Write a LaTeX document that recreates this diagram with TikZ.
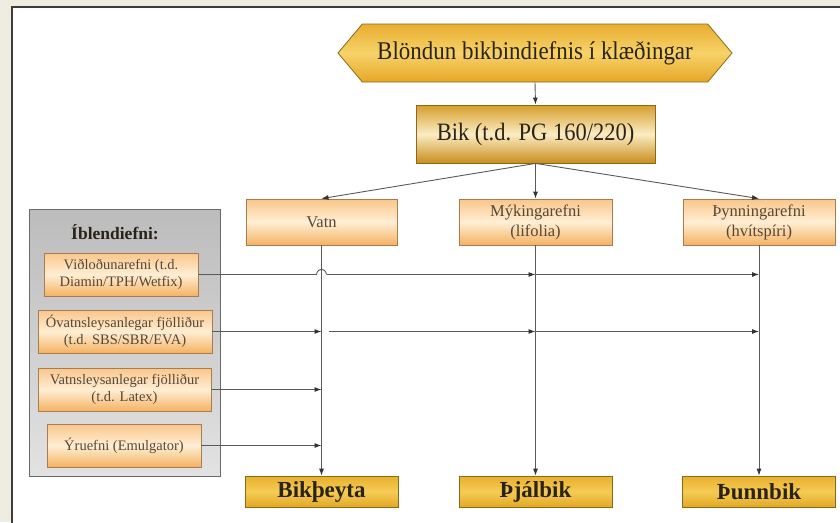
\documentclass[tikz,border=0pt]{standalone}
\usepackage{fontspec}
\setmainfont{Liberation Serif}
\newfontfamily\condfont{Liberation Serif}[FakeStretch=0.9]
\usetikzlibrary{shapes.symbols,arrows.meta,calc}
\definecolor{bgbeige}{HTML}{EFECE1}
\definecolor{frame}{HTML}{3C3C3C}
\definecolor{lineg}{HTML}{5A5A5A}
\definecolor{goldbd}{HTML}{8A6A1A}
\definecolor{orbd}{HTML}{A87C50}
\definecolor{greybd}{HTML}{6A6A6A}
\definecolor{txtd}{HTML}{2A2418}
\definecolor{txtl}{HTML}{54483A}
\definecolor{hexT}{RGB}{232,174,48}
\definecolor{hexM}{RGB}{247,210,105}
\definecolor{hexB}{RGB}{230,166,38}
\definecolor{bikT}{RGB}{214,158,44}
\definecolor{bikM}{RGB}{251,236,195}
\definecolor{bikB}{RGB}{200,142,30}
\definecolor{orT}{RGB}{250,198,138}
\definecolor{orM}{RGB}{255,238,212}
\definecolor{orB}{RGB}{245,178,98}
\definecolor{resT}{RGB}{232,176,44}
\definecolor{resM}{RGB}{245,203,85}
\definecolor{resB}{RGB}{226,168,36}
\definecolor{grT}{RGB}{188,188,188}
\definecolor{grB}{RGB}{226,226,226}
\tikzset{
  hexa/.style={signal, signal to=west and east, signal pointer angle=100,
    draw=goldbd, line width=0.8pt,
    inner sep=0pt, minimum width=394pt, minimum height=58pt,
    top color=hexT, bottom color=hexB, middle color=hexM,
    font=\condfont\fontsize{25.5}{28}\selectfont, text=txtd},
  bikbox/.style={rectangle, draw=goldbd, line width=0.8pt, inner sep=0pt,
    minimum width=239pt, minimum height=58pt,
    top color=bikT, bottom color=bikB, middle color=bikM,
    font=\condfont\fontsize{25}{28}\selectfont, text=txtd},
  lightbox/.style={rectangle, draw=orbd, line width=0.8pt, inner sep=0pt,
    top color=orT, bottom color=orB, middle color=orM, align=center, text=txtl},
  rightbox/.style={lightbox, minimum width=152pt, minimum height=46pt,
    font=\fontsize{16.5}{20}\selectfont},
  leftbox/.style={lightbox, minimum height=43pt,
    font=\fontsize{14.5}{17}\selectfont},
  resbox/.style={rectangle, draw=goldbd, line width=0.8pt, inner sep=0pt,
    minimum width=153pt, minimum height=31pt,
    top color=resT, bottom color=resB, middle color=resM,
    font=\fontsize{23}{26}\bfseries\selectfont, text=txtd},
  greybox/.style={rectangle, draw=greybd, line width=0.8pt, inner sep=0pt,
    minimum width=191pt, minimum height=267pt,
    top color=grT, bottom color=grB},
  conn/.style={draw=lineg, line width=0.9pt},
  arr/.style={conn, -{Latex[length=7pt,width=5pt,color=black!80]}},
}
\begin{document}
\begin{tikzpicture}[x=1pt,y=-1pt]
\useasboundingbox (0,0) rectangle (840,522);
\fill[bgbeige] (0,0) rectangle (840,522);
\fill[white] (12,7) rectangle (842,524);
\draw[frame, line width=2pt] (12,524) -- (12,7) -- (842,7);

% header
\node[hexa] (hex) at (535,53) {Blöndun bikbindiefnis í klæðingar};
\node[bikbox] (bik) at (535.5,134) {Bik (t.d. PG 160/220)};

% components
\node[rightbox, minimum width=151pt] (vatn) at (321.5,222) {Vatn};
\node[rightbox, minimum width=153pt] (myk) at (535.5,222) {Mýkingarefni\\(lifolia)};
\node[rightbox] (thyn) at (759,222) {Þynningarefni\\(hvítspíri)};

% results
\node[resbox] (bikth) at (321.5,491.5) {Bikþeyta};
\node[resbox] (thjal) at (535.5,491.5) {Þjálbik};
\node[resbox] (thunn) at (759,491.5) {Þunnbik};

% additives
\node[greybox] (grey) at (124.5,342.5) {};
\node[font=\fontsize{17.5}{20}\bfseries\selectfont, text=txtd] (ibl) at (115,232) {Íblendiefni:};
\node[leftbox, minimum width=154pt] (b1) at (121,274.5) {Viðloðunarefni (t.d.\\Diamin/TPH/Wetfix)};
\node[leftbox, minimum width=174pt] (b2) at (125,331.5) {Óvatnsleysanlegar fjölliður\\(t.d. SBS/SBR/EVA)};
\node[leftbox, minimum width=173pt] (b3) at (124.5,389.5) {Vatnsleysanlegar fjölliður\\(t.d. Latex)};
\node[leftbox, minimum width=154pt] (b4) at (124,445.5) {Ýruefni (Emulgator)};

% top connectors
\draw[arr] (hex.south) -- (bik.north);
\draw[arr] (bik.south) -- (vatn.north);
\draw[arr] (bik.south) -- (myk.north);
\draw[arr] (bik.south) -- (thyn.north);

% vertical lines
\draw[arr] (vatn.south) -- (bikth.north);
\draw[arr] (myk.south) -- (thjal.north);
\draw[arr] (thyn.south) -- (thunn.north);

% additive lines
\coordinate (h1) at ($(b1.east -| vatn.south)+(-5,0)$);
\coordinate (h2) at ($(b1.east -| vatn.south)+(5,0)$);
\draw[conn] (b1.east) -- (h1) .. controls ($(h1)+(1,-7)$) and ($(h2)+(-1,-7)$) .. (h2);
\draw[arr] (h2) -- (b1.east -| myk.south);
\draw[arr] (b1.east -| myk.south) -- (b1.east -| thyn.south);

\coordinate (g2) at ($(b2.east -| vatn.south)+(7,0)$);
\draw[arr] (b2.east) -- (b2.east -| vatn.south);
\draw[arr] (g2) -- (b2.east -| myk.south);
\draw[arr] (b2.east -| myk.south) -- (b2.east -| thyn.south);

\draw[arr] (b3.east) -- (b3.east -| vatn.south);
\draw[arr] (b4.east) -- (b4.east -| vatn.south);
\end{tikzpicture}
\end{document}
